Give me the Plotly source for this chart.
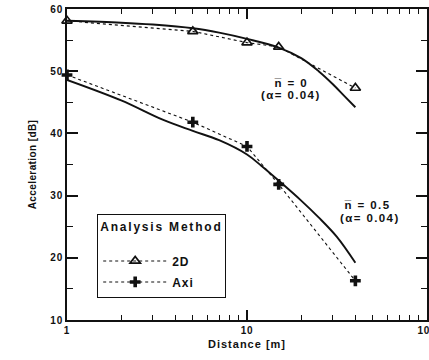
import math
import plotly.graph_objects as go

# Analysis results: acceleration level vs. distance
dist_pts = [1, 5, 10, 15, 40]
acc_2d = [58.1, 56.4, 54.6, 53.9, 47.3]
acc_axi = [49.4, 41.8, 37.9, 31.8, 16.3]

# Reference curves (n = 0 and n = 0.5, alpha = 0.04)
dist_curve0 = [1, 2, 3, 5, 7, 10, 15, 20, 25, 30, 35, 40]
acc_curve0 = [58.1, 57.8, 57.5, 56.9, 56.2, 55.2, 53.8, 52.1, 50.0, 47.9, 45.9, 44.2]
dist_curve5 = [1, 2, 3.4, 5, 7, 10, 12, 15, 20, 25, 31.5, 40]
acc_curve5 = [48.6, 45.3, 42.2, 40.4, 38.9, 36.6, 34.8, 32.4, 29.2, 26.5, 23.4, 19.2]

FONT = "Liberation Sans"
BLACK = "#111111"


def spaced(text, px=1.0):
    return "<b><span style='letter-spacing:%.1fpx'>%s</span></b>" % (px, text)


fig = go.Figure()

for xs, ys in [(dist_curve0, acc_curve0), (dist_curve5, acc_curve5)]:
    fig.add_trace(go.Scatter(
        x=xs, y=ys, mode="lines", showlegend=False,
        line=dict(color=BLACK, width=1.9, shape="spline", smoothing=1.0),
        hoverinfo="skip",
    ))

fig.add_trace(go.Scatter(
    x=dist_pts, y=acc_2d, mode="lines+markers", name=spaced("2D"),
    legendgroup="g2d", cliponaxis=False,
    line=dict(color=BLACK, width=1.1, dash="dot"),
    marker=dict(symbol="triangle-up-open", size=9, color=BLACK,
                line=dict(width=1.7, color=BLACK)),
))
fig.add_trace(go.Scatter(
    x=dist_pts, y=acc_axi, mode="lines+markers", name=spaced("Axi"),
    legendgroup="gaxi", cliponaxis=False,
    line=dict(color=BLACK, width=1.1, dash="dot"),
    marker=dict(symbol="cross", size=9, color=BLACK,
                line=dict(width=0, color=BLACK)),
))

labels = [
    (17.5, 48.1, "n\u0305 = 0"),
    (17.5, 46.1, "(\u03b1= 0.04)"),
    (46.5, 28.5, "n\u0305 = 0.5"),
    (48.0, 26.4, "(\u03b1= 0.04)"),
]
for x, y, t in labels:
    fig.add_annotation(x=math.log10(x), y=y, xref="x", yref="y", text=spaced(t, 1.4),
                       showarrow=False, font=dict(family=FONT, size=11.5, color=BLACK),
                       xanchor="center", yanchor="middle")

fig.update_layout(
    width=429, height=360,
    margin=dict(l=67, r=2, t=9, b=40),
    paper_bgcolor="white", plot_bgcolor="white",
    font=dict(family=FONT, size=10, color=BLACK),
    legend=dict(
        x=0.083, y=0.341, xanchor="left", yanchor="top",
        bgcolor="white", bordercolor=BLACK, borderwidth=1.3,
        title=dict(text=spaced("Analysis Method", 1.8) + "<br> ", side="top center",
                   font=dict(family=FONT, size=12)),
        font=dict(family=FONT, size=12),
        itemwidth=64, tracegroupgap=2,
    ),
    xaxis=dict(
        type="log", range=[0, 2],
        tickvals=[1, 10, 100], ticktext=[spaced(t, 0.8) for t in ["1", "10", "100"]],
        ticks="inside", ticklen=10, tickwidth=1.5, tickcolor=BLACK,
        minor=dict(ticks="inside", ticklen=5, tickwidth=1.2, tickcolor=BLACK,
                   dtick="D1", showgrid=False),
        showline=True, linecolor=BLACK, linewidth=2, mirror="ticks",
        showgrid=False, zeroline=False, ticklabeloverflow="allow", automargin=False,
        title=dict(text=spaced("Distance [m]", 1.0), standoff=5,
                   font=dict(family=FONT, size=11)),
        tickfont=dict(family=FONT, size=10),
    ),
    yaxis=dict(
        range=[10, 60],
        tickvals=[10, 20, 30, 40, 50, 60],
        ticktext=[spaced(str(v), 0.8) for v in [10, 20, 30, 40, 50, 60]],
        ticks="inside", ticklen=11, tickwidth=1.5, tickcolor=BLACK,
        minor=dict(ticks="inside", ticklen=6, tickwidth=1.2, tickcolor=BLACK,
                   dtick=5, showgrid=False),
        showline=True, linecolor=BLACK, linewidth=2, mirror="ticks",
        showgrid=False, zeroline=False, automargin=False,
        title=dict(text=spaced("Acceleration [dB]", 0.4), standoff=12,
                   font=dict(family=FONT, size=10)),
        tickfont=dict(family=FONT, size=10),
    ),
)

fig.write_html("out.html")
